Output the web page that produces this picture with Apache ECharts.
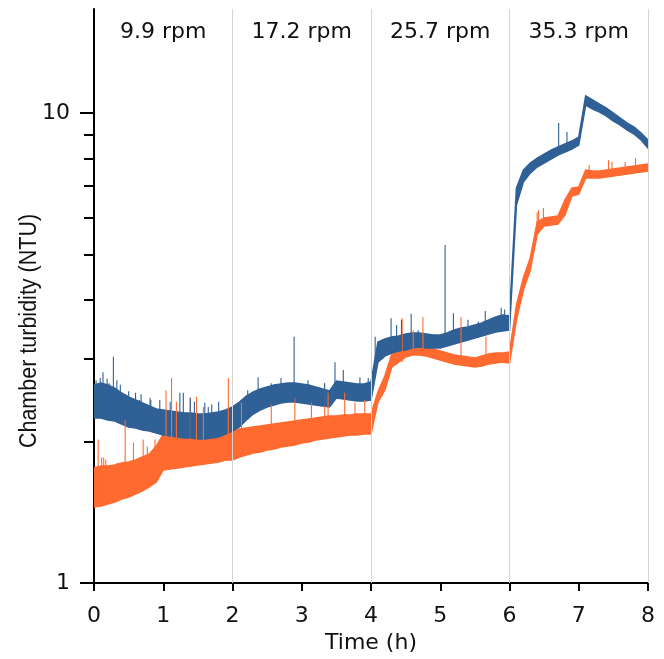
<!DOCTYPE html>
<html>
<head>
<meta charset="utf-8">
<script src="https://cdn.jsdelivr.net/npm/echarts@6/dist/echarts.min.js"></script>
<style>html,body{margin:0;padding:0;background:#fff}#c{width:664px;height:659px}</style>
</head>
<body>
<div id="c"></div>
<script>
// time (h)
const time = [0.0,0.1,0.2,0.3,0.4,0.5,0.6,0.7,0.8,0.9,
  1.0,1.1,1.2,1.3,1.4,1.5,1.6,1.7,1.8,1.9,
  2.0,2.1,2.2,2.3,2.4,2.5,2.6,2.7,2.8,2.9,
  3.0,3.1,3.2,3.3,3.4,3.5,3.6,3.7,3.8,3.9,
  4.0,4.1,4.2,4.3,4.4,4.5,4.6,4.7,4.8,4.9,
  5.0,5.1,5.2,5.3,5.4,5.5,5.6,5.7,5.8,5.9,
  6.0,6.1,6.2,6.3,6.4,6.5,6.6,6.7,6.8,6.9,
  7.0,7.1,7.2,7.3,7.4,7.5,7.6,7.7,7.8,7.9,
  8.0];
// blue series: upper / lower edge of the noise band (NTU)
const blueHigh = [2.638,2.664,2.638,2.599,2.537,2.488,2.451,2.415,2.380,2.345,
  2.334,2.323,2.311,2.300,2.300,2.289,2.289,2.300,2.311,2.334,
  2.369,2.427,2.500,2.549,2.587,2.612,2.638,2.651,2.664,2.664,
  2.651,2.638,2.612,2.587,2.561,2.690,2.677,2.664,2.651,2.651,
  2.677,3.256,3.304,3.337,3.353,3.386,3.403,3.403,3.386,3.370,
  3.370,3.403,3.453,3.487,3.504,3.539,3.574,3.627,3.681,3.717,
  3.699,6.924,7.563,7.827,8.021,8.180,8.341,8.466,8.591,8.718,
  8.891,10.87,10.66,10.45,10.25,10.00,9.758,9.521,9.337,9.066,
  8.761];
const blueLow = [2.244,2.244,2.222,2.211,2.180,2.148,2.137,2.116,2.106,2.085,
  2.065,2.055,2.045,2.035,2.035,2.025,2.025,2.035,2.045,2.075,
  2.106,2.148,2.222,2.289,2.334,2.369,2.392,2.415,2.427,2.427,
  2.415,2.403,2.392,2.380,2.369,2.475,2.463,2.451,2.439,2.439,
  2.451,2.952,3.040,3.085,3.116,3.131,3.162,3.178,3.162,3.162,
  3.162,3.193,3.225,3.256,3.288,3.321,3.353,3.386,3.420,3.436,
  3.453,6.371,7.131,7.452,7.676,7.827,7.982,8.140,8.260,8.382,
  8.549,10.40,10.20,10.05,9.855,9.616,9.429,9.201,9.022,8.761,
  8.423];
// orange series: upper / lower edge of the noise band (NTU)
const orangeHigh = [1.757,1.774,1.774,1.783,1.800,1.809,1.827,1.854,1.881,1.956,
  2.075,2.065,2.055,2.055,2.055,2.055,2.065,2.075,2.085,2.106,
  2.116,2.127,2.137,2.148,2.158,2.169,2.180,2.190,2.200,2.211,
  2.222,2.233,2.244,2.256,2.267,2.267,2.278,2.278,2.289,2.289,
  2.289,2.549,2.757,3.070,3.131,3.178,3.193,3.193,3.178,3.146,
  3.116,3.085,3.055,3.040,3.025,3.010,3.040,3.070,3.085,3.085,
  3.101,3.903,4.455,4.914,5.863,5.978,6.007,6.036,6.529,6.924,
  6.959,7.563,7.526,7.526,7.563,7.600,7.637,7.676,7.713,7.751,
  7.789];
const orangeLow = [1.452,1.459,1.473,1.487,1.509,1.524,1.547,1.570,1.601,1.641,
  1.740,1.749,1.757,1.766,1.774,1.783,1.792,1.800,1.809,1.827,
  1.827,1.854,1.872,1.890,1.900,1.919,1.928,1.947,1.956,1.966,
  1.985,1.995,2.015,2.025,2.035,2.045,2.055,2.065,2.065,2.075,
  2.075,2.427,2.574,2.881,2.952,3.025,3.055,3.055,3.040,3.010,
  2.981,2.952,2.923,2.909,2.895,2.881,2.895,2.923,2.938,2.952,
  2.938,3.627,4.201,4.633,5.527,5.748,5.776,5.804,6.066,6.658,
  6.724,7.272,7.272,7.272,7.308,7.344,7.380,7.416,7.452,7.489,
  7.526];
// isolated spikes: [time, peak NTU]
const blueSpikes = [[0.03,2.70],[0.09,2.73],[0.13,2.81],[0.19,2.72],[0.22,2.66],[0.28,3.03],
  [0.33,2.70],[0.38,2.64],[0.50,2.56],[0.60,2.54],[0.66,2.45],[0.68,2.52],[0.81,2.48],
  [0.82,2.45],[0.95,2.45],[1.10,2.43],[1.24,2.54],[1.29,2.54],[1.39,2.48],[1.45,2.43],
  [1.60,2.42],[1.65,2.37],[1.70,2.40],[1.80,2.43],[2.22,2.57],[2.37,2.74],[2.56,2.66],
  [2.70,2.73],[2.89,3.34],[3.09,2.70],[3.33,2.66],[3.48,2.95],[3.60,2.84],[3.84,2.74],
  [3.96,2.73],[4.06,3.34],[4.29,3.66],[4.37,3.54],[4.44,3.63],[4.58,3.74],[4.68,3.45],
  [5.07,5.24],[5.19,3.75],[5.40,3.63],[5.55,3.60],[5.65,3.79],[5.88,3.85],[5.93,3.82],
  [6.71,9.52],[6.83,9.11]];
const orangeSpikes = [[0.06,2.02],[0.11,1.85],[0.14,1.85],[0.17,1.83],[0.33,1.80],[0.45,2.22],
  [0.57,1.99],[0.71,2.02],[0.77,1.95],[0.88,2.02],[1.04,2.57],[1.12,2.73],[1.19,2.43],
  [1.39,2.48],[1.48,2.49],[1.58,2.37],[1.94,2.73],[2.13,2.42],[2.56,2.42],[2.90,2.48],
  [3.14,2.42],[3.33,2.66],[3.38,2.54],[3.62,2.54],[3.77,2.42],[3.91,2.45],[4.45,3.66],
  [4.61,3.45],[4.75,3.68],[5.30,3.68],[5.66,3.34],[6.40,6.15],[6.42,6.22],[6.49,6.28],
  [7.15,7.75],[7.43,7.94],[7.48,7.87],[7.67,7.87],[7.82,8.02]];
// speed segments
const segments = [[0,2,'9.9 rpm'],[2,4,'17.2 rpm'],[4,6,'25.7 rpm'],[6,8,'35.3 rpm']];
const dividers = [2,4,6,8];
const yMajor = [1,10];
const yMinor = [2,3,4,5,6,7,8,9];

const BLUE = '#2f6096', ORANGE = '#ff6a30';
const HFONT = 'DejaVu Sans';

function nearestIdx(t){ let b=0; for(let i=0;i<time.length;i++){ if(Math.abs(time[i]-t)<Math.abs(time[b]-t)) b=i; } return b; }

function band(low, high, color, z){
  return {
    type:'custom', coordinateSystem:'cartesian2d', z:z, silent:true, clip:true,
    data:[[time[0], low[0]]],
    renderItem:function(params, api){
      const pts=[];
      for(let i=0;i<time.length;i++) pts.push(api.coord([time[i], high[i]]));
      for(let i=time.length-1;i>=0;i--) pts.push(api.coord([time[i], low[i]]));
      return {type:'polygon', shape:{points:pts}, style:{fill:color, stroke:color, lineWidth:1.5}};
    }
  };
}
function spikes(list, low, color, z){
  return {
    type:'custom', coordinateSystem:'cartesian2d', z:z, silent:true, clip:true,
    data:list,
    renderItem:function(params, api){
      const t=api.value(0), pk=api.value(1);
      const base=low[nearestIdx(t)];
      const a=api.coord([t, base]), b=api.coord([t, pk]);
      return {type:'line', shape:{x1:a[0],y1:a[1],x2:b[0],y2:b[1]}, style:{stroke:color, lineWidth:1.1}};
    }
  };
}

const chart = echarts.init(document.getElementById('c'), null, {renderer:'canvas'});
const yBase = {type:'log', logBase:10, min:1, max:16.65, position:'left', splitLine:{show:false}, minorTick:{show:false}};
chart.setOption({
  animation:false,
  backgroundColor:'#ffffff',
  grid:{left:94, right:16, top:9, bottom:76, containLabel:false, outerBoundsMode:'none'},
  xAxis:{
    type:'value', min:0, max:8, interval:1,
    axisLine:{show:true, onZero:false, lineStyle:{color:'#000', width:2}},
    axisTick:{show:true, length:8, lineStyle:{color:'#000', width:2}},
    axisLabel:{fontSize:22, fontFamily:HFONT, color:'#111', margin:22},
    splitLine:{show:false},
    name:'Time (h)', nameLocation:'middle', nameGap:44,
    nameTextStyle:{fontSize:22, fontFamily:HFONT, color:'#111'}
  },
  yAxis:[
    Object.assign({}, yBase, {
      axisLine:{show:true, lineStyle:{color:'#000', width:2}},
      axisTick:{show:true, length:14, customValues:yMajor, lineStyle:{color:'#000', width:2}},
      axisLabel:{show:true, customValues:yMajor, fontSize:22, fontFamily:HFONT, color:'#111', margin:24}
    }),
    Object.assign({}, yBase, {
      axisLine:{show:false},
      axisTick:{show:true, length:10, customValues:yMinor, lineStyle:{color:'#000', width:2}},
      axisLabel:{show:false}
    })
  ],
  graphic:[{
    type:'text', x:29, y:331, rotation:Math.PI/2, scaleY:1.15,
    style:{text:'Chamber turbidity (NTU)', font:'21.5px "Liberation Sans"', fill:'#111', align:'center', verticalAlign:'middle'}
  }],
  series:[
    {
      type:'line', data:[], z:1, silent:true,
      markLine:{
        silent:true, symbol:['none','none'], label:{show:false},
        lineStyle:{color:'#d4d4d4', width:1, type:'solid'},
        data: dividers.map(v=>({xAxis:v}))
      },
      markArea:{
        silent:true, itemStyle:{color:'rgba(0,0,0,0)'},
        label:{show:true, position:'insideTop', distance:12, fontSize:22, fontFamily:HFONT, color:'#111'},
        data: segments.map(s=>[{xAxis:s[0], name:s[2]},{xAxis:s[1]}])
      }
    },
    band(orangeLow, orangeHigh, ORANGE, 2),
    band(blueLow, blueHigh, BLUE, 3),
    spikes(orangeSpikes, orangeLow, ORANGE, 4),
    spikes(blueSpikes, blueLow, BLUE, 5)
  ]
});
</script>
</body>
</html>
